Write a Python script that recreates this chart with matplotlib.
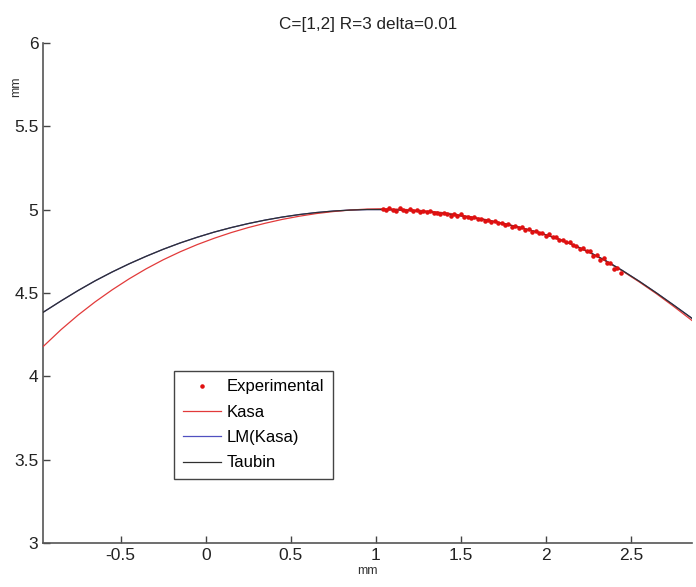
import numpy as np
import matplotlib.pyplot as plt

plt.rcParams['font.family'] = ['Liberation Sans', 'DejaVu Sans']

# fitted curves
curve_x = [-0.955, -0.85, -0.75, -0.65, -0.55, -0.45, -0.35, -0.25, -0.15, -0.05,
           0.05, 0.15, 0.25, 0.35, 0.45, 0.55, 0.65, 0.75, 0.85, 0.95,
           1.05, 1.15, 1.25, 1.35, 1.45, 1.55, 1.65, 1.75, 1.85, 1.95,
           2.05, 2.15, 2.25, 2.35, 2.45, 2.55, 2.65, 2.75, 2.86]
kasa_y = [4.180, 4.281, 4.368, 4.447, 4.519, 4.585, 4.645, 4.699, 4.747, 4.790,
          4.828, 4.862, 4.892, 4.918, 4.941, 4.960, 4.976, 4.988, 4.997, 5.003,
          5.005, 5.002, 4.996, 4.987, 4.975, 4.959, 4.940, 4.918, 4.893, 4.864,
          4.831, 4.791, 4.745, 4.692, 4.632, 4.566, 4.496, 4.421, 4.335]
lm_y = [4.385, 4.453, 4.515, 4.573, 4.626, 4.675, 4.720, 4.762, 4.800, 4.834,
        4.865, 4.892, 4.916, 4.937, 4.955, 4.970, 4.982, 4.991, 4.997, 5.000,
        5.000, 4.997, 4.991, 4.982, 4.970, 4.955, 4.937, 4.916, 4.892, 4.865,
        4.833, 4.794, 4.748, 4.695, 4.635, 4.570, 4.501, 4.429, 4.348]
taubin_y = [4.385, 4.453, 4.515, 4.573, 4.626, 4.675, 4.720, 4.762, 4.800, 4.834,
            4.865, 4.892, 4.916, 4.937, 4.955, 4.970, 4.982, 4.991, 4.997, 5.000,
            5.000, 4.997, 4.991, 4.982, 4.970, 4.955, 4.937, 4.916, 4.892, 4.865,
            4.833, 4.794, 4.748, 4.695, 4.635, 4.570, 4.501, 4.429, 4.348]

# experimental points
exp_x = [1.04, 1.06, 1.08, 1.10, 1.12, 1.14, 1.16, 1.18, 1.20, 1.22,
         1.24, 1.26, 1.28, 1.30, 1.32, 1.34, 1.36, 1.38, 1.40, 1.42,
         1.44, 1.46, 1.48, 1.50, 1.52, 1.54, 1.56, 1.58, 1.60, 1.62,
         1.64, 1.66, 1.68, 1.70, 1.72, 1.74, 1.76, 1.78, 1.80, 1.82,
         1.84, 1.86, 1.88, 1.90, 1.92, 1.94, 1.96, 1.98, 2.00, 2.02,
         2.04, 2.06, 2.08, 2.10, 2.12, 2.14, 2.16, 2.18, 2.20, 2.22,
         2.24, 2.26, 2.28, 2.30, 2.32, 2.34, 2.36, 2.38, 2.40, 2.42, 2.44]
exp_y = [5.005, 4.996, 5.007, 5.000, 4.992, 5.007, 4.997, 4.991, 5.001, 4.991,
         4.995, 4.983, 4.991, 4.984, 4.991, 4.978, 4.982, 4.972, 4.980, 4.972,
         4.963, 4.971, 4.961, 4.974, 4.953, 4.957, 4.950, 4.955, 4.942, 4.945,
         4.932, 4.937, 4.928, 4.933, 4.917, 4.920, 4.909, 4.913, 4.898, 4.902,
         4.892, 4.895, 4.879, 4.881, 4.866, 4.872, 4.859, 4.860, 4.844, 4.851,
         4.834, 4.833, 4.817, 4.820, 4.806, 4.805, 4.785, 4.784, 4.765, 4.767,
         4.749, 4.752, 4.723, 4.726, 4.696, 4.708, 4.678, 4.680, 4.644, 4.648, 4.621]

fig = plt.figure(figsize=(6.96, 5.87), dpi=100)
ax = fig.add_axes([0.0622, 0.0744, 0.9321, 0.8529])

ax.plot(exp_x, exp_y, '.', color='#e01010', markersize=4.5, label='Experimental', zorder=4)
ax.plot(curve_x, kasa_y, '-', color='#e23a3a', lw=0.9, label='Kasa', zorder=3)
ax.plot(curve_x, lm_y, '-', color='#5050c0', lw=0.9, label='LM(Kasa)', zorder=2)
ax.plot(curve_x, taubin_y, '-', color='#303030', lw=0.9, label='Taubin', zorder=3)

ax.set_xlim(-0.955, 2.86)
ax.set_ylim(3, 6)
ax.set_xticks([-0.5, 0, 0.5, 1, 1.5, 2, 2.5])
ax.set_xticklabels(['-0.5', '0', '0.5', '1', '1.5', '2', '2.5'])
ax.set_yticks([3, 3.5, 4, 4.5, 5, 5.5, 6])
ax.set_yticklabels(['3', '3.5', '4', '4.5', '5', '5.5', '6'])
ax.tick_params(direction='in', length=5, width=1, color='#444444',
               labelsize=12.5, labelcolor='#222222')
for s in ['top', 'right']:
    ax.spines[s].set_visible(False)
for s in ['left', 'bottom']:
    ax.spines[s].set_color('#555555')
    ax.spines[s].set_linewidth(1.2)

ax.set_title('C=[1,2] R=3 delta=0.01', fontsize=12.3, color='#222222', pad=10)
ax.set_xlabel('mm', fontsize=9, color='#333333', labelpad=1)
fig.text(0.023, 0.853, 'mm', rotation=90, fontsize=9, color='#333333',
         ha='center', va='center')

leg = ax.legend(loc='lower left', bbox_to_anchor=(0.202, 0.129), borderaxespad=0,
                fontsize=12, handlelength=2.3, handletextpad=0.35, borderpad=0.5,
                labelspacing=0.62, fancybox=False, framealpha=1, markerscale=1)
leg.get_frame().set_edgecolor('#444444')
leg.get_frame().set_linewidth(1.0)

plt.savefig('out.png', dpi=100)
